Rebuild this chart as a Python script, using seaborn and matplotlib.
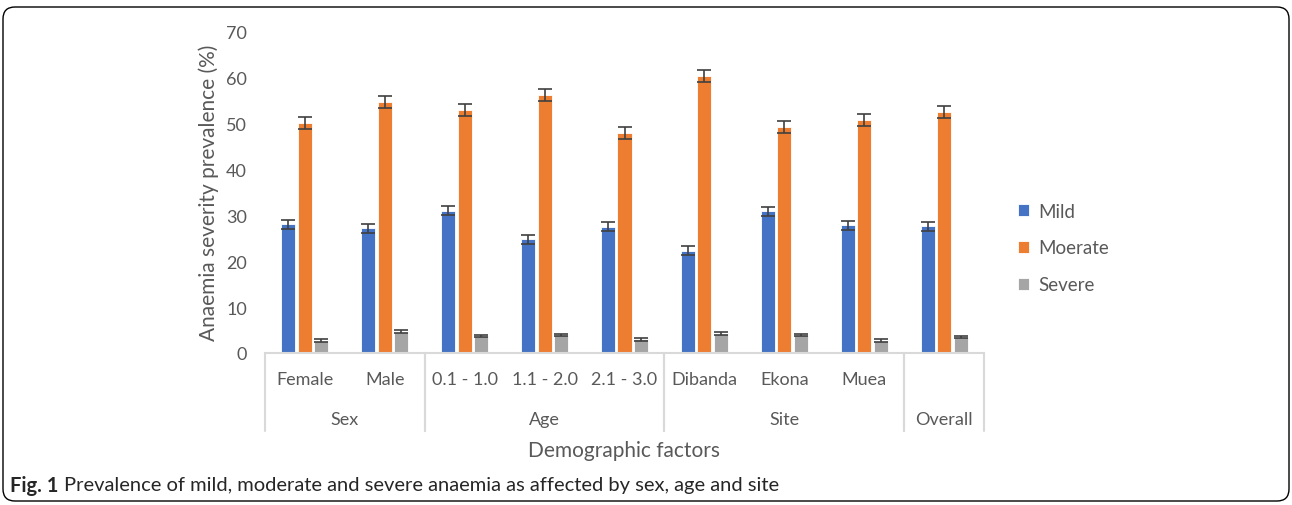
import pandas as pd
import seaborn as sns
import matplotlib.pyplot as plt
import matplotlib.patches as mpatches
import matplotlib.transforms as mtransforms

# ---- data ----
categories = ['Female', 'Male', '0.1 - 1.0', '1.1 - 2.0', '2.1 - 3.0',
              'Dibanda', 'Ekona', 'Muea', 'Overall']
tick_labels = ['Female', 'Male', '0.1 - 1.0', '1.1 - 2.0', '2.1 - 3.0',
               'Dibanda', 'Ekona', 'Muea', '']
groups = [('Sex', -0.5, 1.5), ('Age', 1.5, 4.5), ('Site', 4.5, 7.5), ('Overall', 7.5, 8.5)]
severity = ['Mild', 'Moerate', 'Severe']

mild = [28.0, 27.1, 31.0, 24.7, 27.5, 22.3, 30.8, 27.8, 27.6]
moderate = [50.1, 54.6, 52.8, 56.2, 47.9, 60.2, 49.1, 50.7, 52.4]
severe = [2.7, 4.6, 3.7, 3.9, 3.0, 4.2, 3.9, 2.7, 3.5]

mild_err = [1.0, 1.0, 1.0, 0.9, 1.0, 0.9, 1.0, 1.0, 1.0]
moderate_err = [1.3, 1.3, 1.3, 1.3, 1.3, 1.3, 1.3, 1.3, 1.3]
severe_err = [0.3, 0.3, 0.3, 0.3, 0.3, 0.3, 0.3, 0.3, 0.3]

COLORS = ['#4472C4', '#ED7D31', '#A5A5A5']
TXT = '#595959'
GRID = '#D9D9D9'

df = pd.DataFrame({
    'category': categories * 3,
    'severity': [s for s in severity for _ in categories],
    'value': mild + moderate + severe,
})
errs = [mild_err, moderate_err, severe_err]

sns.set_style('white')
plt.rcParams['font.family'] = ['Lato', 'DejaVu Sans']
plt.rcParams['font.size'] = 13

fig = plt.figure(figsize=(12.92, 5.06), dpi=100)
ax = fig.add_axes([265 / 1292, 1 - 354 / 506, 719 / 1292, (354 - 32.3) / 506])

sns.barplot(data=df, x='category', y='value', hue='severity', order=categories,
            hue_order=severity, palette=COLORS, saturation=1, width=0.62, gap=0.15,
            errorbar=None, edgecolor='white', linewidth=0.6, ax=ax)

# error bars on top of each bar
for cont, err in zip(ax.containers, errs):
    xs = [b.get_x() + b.get_width() / 2 for b in cont]
    hs = [b.get_height() for b in cont]
    ax.errorbar(xs, hs, yerr=err, fmt='none', ecolor='#404040', elinewidth=1.2,
                capsize=5, capthick=1.2)

ax.set_ylim(0, 70)
ax.set_xlim(-0.5, 8.5)
ax.set_yticks(range(0, 71, 10))
ax.set_xticks(range(len(categories)))
ax.set_xticklabels(tick_labels)
ax.tick_params(axis='y', length=0, pad=13, labelcolor=TXT, labelsize=13)
ax.tick_params(axis='x', length=0, pad=13, labelcolor=TXT, labelsize=13)
ax.set_xlabel('')
ax.set_ylabel('Anaemia severity prevalence (%)', color=TXT, fontsize=15, labelpad=5)

for s in ['top', 'right', 'left']:
    ax.spines[s].set_visible(False)
ax.spines['bottom'].set_color(GRID)
ax.spines['bottom'].set_linewidth(1.5)

# grouped category table under the axis
trans = mtransforms.blended_transform_factory(ax.transData, ax.transAxes)
table_bottom = -(432 - 354) / (354 - 32.3)
for name, x0, x1 in groups:
    for xv in (x0, x1):
        ax.plot([xv, xv], [0, table_bottom], transform=trans, color=GRID, lw=1.5,
                clip_on=False)
    ax.text((x0 + x1) / 2, -(420 - 354) / (354 - 32.3), name, transform=trans,
            ha='center', va='center', color=TXT, fontsize=13)

ax.text(0.5, -(451 - 354) / (354 - 32.3), 'Demographic factors', transform=ax.transAxes,
        ha='center', va='center', color=TXT, fontsize=15)

# legend
handles, labels = ax.get_legend_handles_labels()
ax.get_legend().remove()
fig.legend(handles, labels, loc='center left', bbox_to_anchor=(1001 / 1292, 1 - 249 / 506),
           frameon=False, handlelength=0.6, handleheight=0.6, handletextpad=0.5,
           labelspacing=1.05, labelcolor=TXT, fontsize=13.5)

# caption
cap_y = 1 - 486 / 506
t1 = fig.text(10 / 1292, cap_y, 'Fig. 1', fontsize=14.5, fontweight='bold',
              ha='left', va='center')
fig.canvas.draw()
bb = t1.get_window_extent()
fig.text((bb.x1 + 6) / 1292, cap_y,
         'Prevalence of mild, moderate and severe anaemia as affected by sex, age and site',
         fontsize=14.5, ha='left', va='center')

# rounded frame around the figure
frame = mpatches.FancyBboxPatch((3, 4), 1286, 494, boxstyle='round,pad=0,rounding_size=12',
                                fill=False, edgecolor='black', lw=1.0,
                                transform=mtransforms.IdentityTransform())
fig.add_artist(frame)

fig.savefig('out.png', dpi=100)
